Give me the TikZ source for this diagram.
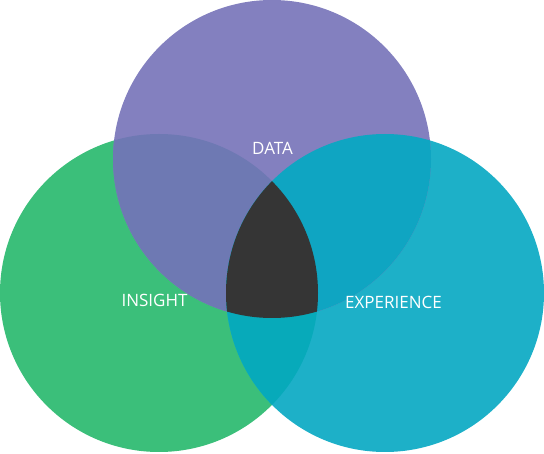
\documentclass[tikz,border=0pt]{standalone}
\usepackage{fontspec}
\setmainfont{Open Sans}
\definecolor{cpurple}{HTML}{8380BF}
\definecolor{cgreen}{HTML}{3BBF7A}
\definecolor{cteal}{HTML}{1DB0C8}
\definecolor{cpg}{HTML}{6E79B3}
\definecolor{cpt}{HTML}{0FA5C2}
\definecolor{cgt}{HTML}{07AABA}
\definecolor{cdark}{HTML}{353535}
\tikzset{
  lbl/.style={text=white, font=\fontsize{17}{20}\selectfont, inner sep=0pt, anchor=center}
}
\begin{document}
\begin{tikzpicture}[x=1pt,y=-1pt]
\useasboundingbox (0,0) rectangle (544,454);
\def\pur{(272,159) circle[radius=159pt]}
\def\gre{(159,293) circle[radius=159pt]}
\def\tea{(385,293) circle[radius=159pt]}
\fill[cgreen] \gre;
\fill[cteal] \tea;
\fill[cpurple] \pur;
\begin{scope}
  \clip \pur;
  \fill[cpg] \gre;
  \fill[cpt] \tea;
\end{scope}
\begin{scope}
  \clip \gre;
  \fill[cgt] \tea;
  \clip \tea;
  \fill[cdark] \pur;
\end{scope}
\node[lbl] (data) at (272.5,148) {DATA};
\node[lbl] (insight) at (154.5,300) {INSIGHT};
\node[lbl] (experience) at (393.5,302) {EXPERIENCE};
\end{tikzpicture}
\end{document}
